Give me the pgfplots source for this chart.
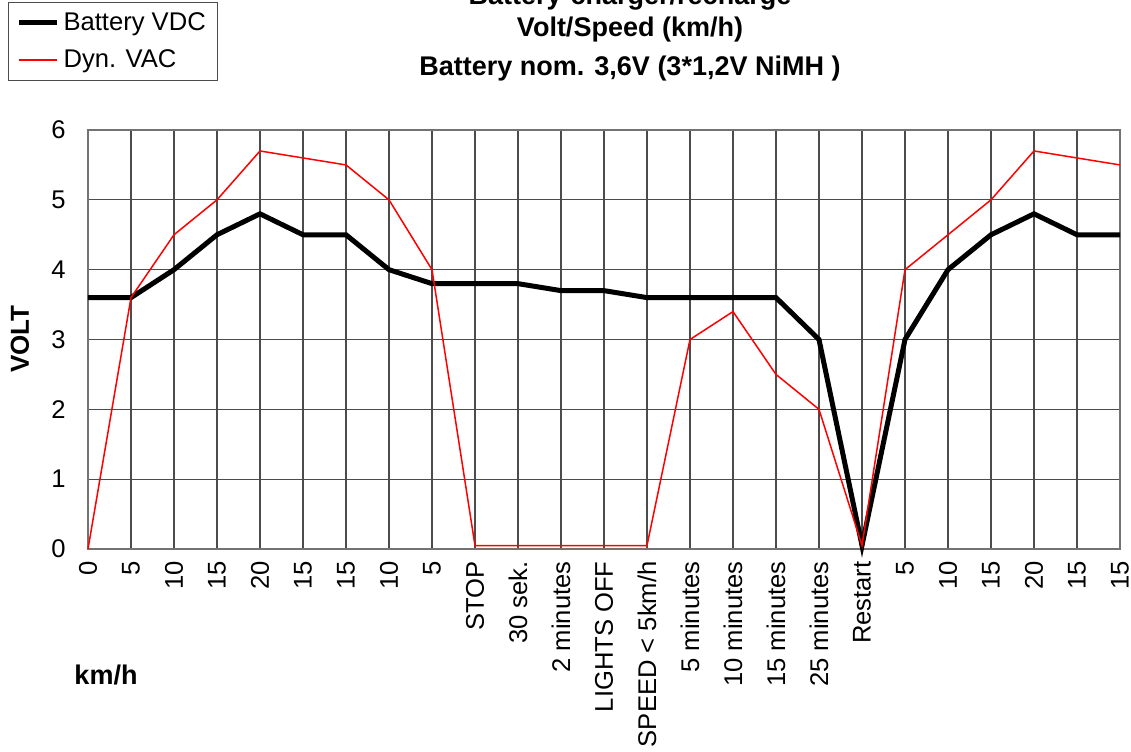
\documentclass[border=0pt]{standalone}
\usepackage{pgfplots}
\pgfplotsset{compat=1.18}
\usepackage{fontspec}
\setmainfont{Liberation Sans}
\begin{document}
\begin{tikzpicture}
\path[use as bounding box] (-44pt,-101pt) rectangle (521.5pt,274.5pt);
\begin{axis}[
  scale only axis,
  width=516pt, height=209.5pt,
  xmin=0, xmax=24, ymin=0, ymax=6,
  xtick={0,...,24},
  xticklabels={0,5,10,15,20,15,15,10,5,STOP,30 sek.,2 minutes,LIGHTS OFF,SPEED < 5km/h,5 minutes,10 minutes,15 minutes,25 minutes,Restart,5,10,15,20,15,15},
  ytick={0,1,...,6},
  /pgf/number format/assume math mode=true,
  tick label style={font=\fontsize{12.8}{14}\selectfont},
  xticklabel style={rotate=90, anchor=east, inner sep=0pt, xshift=0pt, yshift=0pt},
  xticklabel shift=6pt,
  yticklabel style={inner sep=0pt},
  yticklabel shift=11pt,
  major tick length=0pt,
  grid=major,
  major grid style={line width=0.6pt, color=black!70},
  axis line style={line width=0.6pt, color=black!55},
  clip=false,
  legend style={at={(rel axis cs:-0.0775,1.3055)}, anchor=north west,
    draw=black!70, line width=0.5pt, font=\fontsize{12.8}{15}\selectfont,
    row sep=4pt, inner xsep=4pt, inner ysep=3pt},
  legend cell align=left,
  legend image code/.code={\draw[#1] (0pt,0pt) -- (19pt,0pt);},
]
\addplot[black, line width=2.5pt] coordinates {
(0,3.6) (1,3.6) (2,4.0) (3,4.5) (4,4.8) (5,4.5) (6,4.5) (7,4.0) (8,3.8) (9,3.8)
(10,3.8) (11,3.7) (12,3.7) (13,3.6) (14,3.6) (15,3.6) (16,3.6) (17,3.0) (18,0.05)
(19,3.0) (20,4.0) (21,4.5) (22,4.8) (23,4.5) (24,4.5)};
\addlegendentry{Battery VDC}
\addplot[red, line width=0.75pt] coordinates {
(0,0) (1,3.6) (2,4.5) (3,5.0) (4,5.7) (5,5.6) (6,5.5) (7,5.0) (8,4.0) (9,0.05)
(10,0.05) (11,0.05) (12,0.05) (13,0.05) (14,3.0) (15,3.4) (16,2.5) (17,2.0) (18,0.05)
(19,4.0) (20,4.5) (21,5.0) (22,5.7) (23,5.6) (24,5.5)};
\addlegendentry{Dyn. VAC}
\end{axis}
\node[anchor=base, font=\bfseries\fontsize{13.5}{16}\selectfont] at (271pt,272pt) {Battery-charger/recharge};
\node[anchor=base, font=\bfseries\fontsize{13.5}{16}\selectfont] at (271pt,256pt) {Volt/Speed (km/h)};
\node[anchor=base, font=\bfseries\fontsize{13.5}{16}\selectfont] at (271pt,236.5pt) {Battery nom. 3,6V (3*1,2V NiMH )};
\node[font=\bfseries\fontsize{13}{15}\selectfont] at (-34pt,105pt) [rotate=90] {VOLT};
\node[font=\bfseries\fontsize{13.5}{16}\selectfont] at (9pt,-63pt) {km/h};
\end{tikzpicture}
\end{document}
